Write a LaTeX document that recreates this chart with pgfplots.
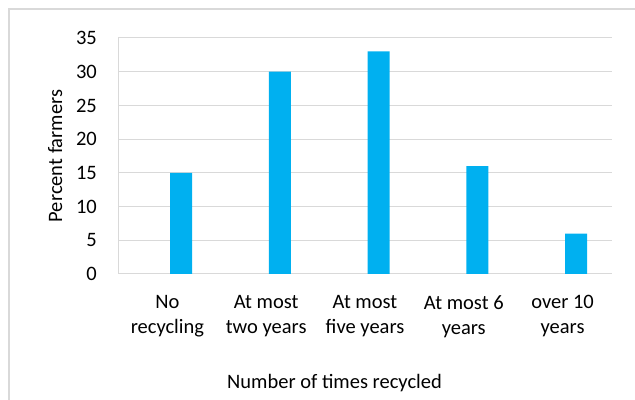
\documentclass[border=0pt]{standalone}
\usepackage{pgfplots}
\pgfplotsset{compat=1.18}
\usepackage{fontspec}
\setmainfont{Carlito}
\definecolor{barblue}{HTML}{00B0F0}
\definecolor{gridgray}{HTML}{D9D9D9}
\begin{document}
\begin{tikzpicture}[font=\fontsize{20.5bp}{25bp}\selectfont]
\useasboundingbox (0,0) rectangle (635bp,400bp);
\draw[gridgray, line width=1.2bp] (9bp,0) -- (9bp,391bp) -- (635bp,391bp);
\begin{axis}[
  at={(118bp,126bp)}, anchor=south west,
  scale only axis, width=494bp, height=236bp,
  xmin=-0.5, xmax=4.5, ymin=0, ymax=35,
  ytick={0,5,...,35},
  xtick={0,1,2,3,4},
  xticklabels={{No\\recycling},{At most\\two years},{At most\\five years},{At most 6\\years},{over 10\\years}},
  axis x line*=bottom, axis y line*=left,
  axis line style={-, gridgray, line width=1bp},
  major tick length=0pt,
  ymajorgrids, grid style={gridgray, line width=1bp},
  /pgf/number format/assume math mode=true,
  every tick label/.append style={font=\fontsize{20.5bp}{25bp}\selectfont, text=black},
  xticklabel style={align=center, anchor=north, inner sep=0pt, yshift=-21bp},
  yticklabel style={anchor=east, inner sep=0pt, xshift=-21bp},
  ybar, bar width=22bp, bar shift=13.6bp,
]
\addplot[fill=barblue, draw=none] coordinates {(0,15) (1,30) (2,33) (3,16) (4,6)};
\end{axis}
\node[anchor=base, rotate=90] at (62bp,244bp) {Percent farmers};
\node[anchor=base] at (334.5bp,12bp) {Number of times recycled};
\end{tikzpicture}
\end{document}
